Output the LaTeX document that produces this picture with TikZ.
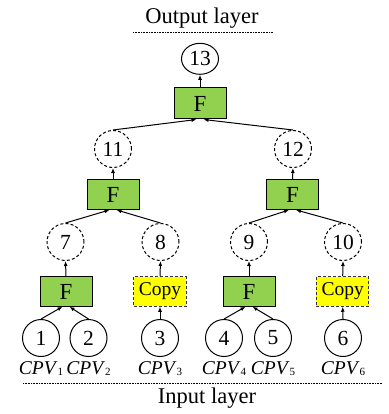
\documentclass[tikz,border=0pt]{standalone}
\usepackage{fontspec}
\setmainfont{Liberation Serif}
\usetikzlibrary{arrows.meta,shapes.geometric}
\definecolor{fgreen}{HTML}{92D050}
\definecolor{cyellow}{HTML}{FFFF00}
\newcommand{\cpvlab}[1]{\textit{CPV}\raisebox{-1pt}{\fontsize{11}{11}\selectfont #1}}
\begin{document}
\begin{tikzpicture}[x=1pt,y=-1pt,
  nd/.style={circle,draw,line width=1pt,minimum size=37pt,inner sep=0pt,font=\fontsize{21.5}{21.5}\selectfont},
  dnd/.style={nd,dash pattern=on 3pt off 2.2pt},
  fbox/.style={rectangle,draw,line width=1pt,fill=fgreen,minimum width=52pt,minimum height=29.5pt,inner sep=0pt,font=\fontsize{23}{23}\selectfont},
  cbox/.style={rectangle,draw=black!80,line width=1pt,dash pattern=on 3pt off 2pt,fill=cyellow,minimum width=52.5pt,minimum height=29.5pt,inner sep=0pt,font=\fontsize{19.5}{19.5}\selectfont},
  arr/.style={-{Latex[length=5pt,width=4pt]},line width=1pt},
  dotline/.style={line width=0.6pt,dash pattern=on 0.8pt off 0.8pt},
  lbl/.style={font=\fontsize{22.5}{22.5}\selectfont,inner sep=0pt,anchor=base},
  cpv/.style={font=\fontsize{19.5}{19.5}\selectfont,inner sep=0pt,anchor=base}]
\useasboundingbox (0,0) rectangle (388,414);

% layer labels
\node[lbl] (outl) at (202,23.5) {Output layer};
\coordinate (ot1) at (133,32.3);
\coordinate (ot2) at (273,32.3);
\draw[dotline] (ot1) -- (ot2);
\node[lbl] (inl) at (207,403) {Input layer};
\coordinate (ib1) at (23,383.3);
\coordinate (ib2) at (382,383.3);
\draw[dotline] (ib1) -- (ib2);

% top
\node[ellipse,draw,line width=1pt,minimum width=37pt,minimum height=31pt,inner sep=0pt,font=\fontsize{21.5}{21.5}\selectfont] (c13) at (200,58.8) {13};
\node[fbox,minimum height=31pt] (f1) at (200,103.5) {F};

% level 2
\node[dnd] (c11) at (113,149) {11};
\node[dnd] (c12) at (293,149) {12};
\node[fbox] (f2l) at (113,194.7) {F};
\node[fbox] (f2r) at (292.5,194.7) {F};

% level 3
\node[dnd] (c7) at (65.5,242) {7};
\node[dnd] (c8) at (160.5,242) {8};
\node[dnd] (c9) at (249,242) {9};
\node[dnd] (c10) at (343,242) {10};
\node[fbox] (f3a) at (66,291.5) {F};
\node[cbox] (cp1) at (160,291.5) {Copy};
\node[fbox] (f3b) at (249,291.5) {F};
\node[cbox] (cp2) at (342.7,291.5) {Copy};

% inputs
\node[nd] (c1) at (41,338) {1};
\node[nd] (c2) at (88.5,338) {2};
\node[nd] (c3) at (160,338) {3};
\node[nd] (c4) at (224,338) {4};
\node[nd] (c5) at (273,338) {5};
\node[nd] (c6) at (343,338) {6};

\node[cpv] (l1) at (41,374) {\cpvlab{1}};
\node[cpv] (l2) at (88.5,374) {\cpvlab{2}};
\node[cpv] (l3) at (160,374) {\cpvlab{3}};
\node[cpv] (l4) at (224,374) {\cpvlab{4}};
\node[cpv] (l5) at (273,374) {\cpvlab{5}};
\node[cpv] (l6) at (343,374) {\cpvlab{6}};

% arrows
\draw[arr] (f1.north) -- (c13.south);
\draw[arr] (c11.north) -- ([xshift=-3.5pt]f1.south);
\draw[arr] (c12.north) -- ([xshift=3.5pt]f1.south);

\draw[arr] (f2l.north) -- (c11.south);
\draw[arr] (f2r.north) -- (c12.south);
\draw[arr] (c7.north) -- ([xshift=-3.5pt]f2l.south);
\draw[arr] (c8.north) -- ([xshift=3.5pt]f2l.south);
\draw[arr] (c9.north) -- ([xshift=-3.5pt]f2r.south);
\draw[arr] (c10.north) -- ([xshift=3.5pt]f2r.south);

\draw[arr] (f3a.north) -- (c7.south);
\draw[arr] (cp1.north) -- (c8.south);
\draw[arr] (f3b.north) -- (c9.south);
\draw[arr] (cp2.north) -- (c10.south);

\draw[arr] (c1.north) -- ([xshift=-3.5pt]f3a.south);
\draw[arr] (c2.north) -- ([xshift=3.5pt]f3a.south);
\draw[arr] (c3.north) -- (cp1.south);
\draw[arr] (c4.north) -- ([xshift=-3.5pt]f3b.south);
\draw[arr] (c5.north) -- ([xshift=3.5pt]f3b.south);
\draw[arr] (c6.north) -- (cp2.south);
\end{tikzpicture}
\end{document}
